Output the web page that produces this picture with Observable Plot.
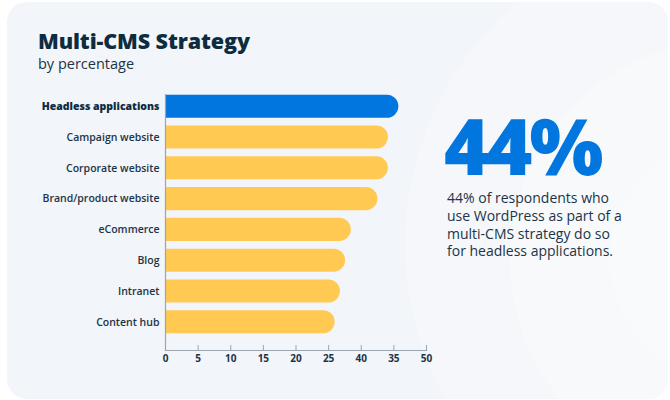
<!DOCTYPE html>
<html>
<head>
<meta charset="utf-8">
<script src="https://cdn.jsdelivr.net/npm/d3@7"></script>
<script src="https://cdn.jsdelivr.net/npm/@observablehq/plot@0.6"></script>
<style>
  html, body { margin: 0; padding: 0; background: #ffffff; }
  body { width: 670px; height: 400px; overflow: hidden; font-family: "Open Sans", sans-serif; }
  #panel { position: absolute; left: 7px; top: 2px; width: 661px; height: 397px; border-radius: 20px; background: #f2f5f9; overflow: hidden; }
  .ring { position: absolute; border-radius: 50%; }
  #title { position: absolute; left: 38px; top: 30px; font-size: 21.5px; font-weight: 800; color: #0e2c3f; letter-spacing: -0.1px; line-height: 1; white-space: nowrap; }
  #subtitle { position: absolute; left: 38px; top: 57px; font-size: 14.5px; color: #1d3446; line-height: 1; white-space: nowrap; }
  #chart { position: absolute; left: 0; top: 80px; }
  #big { position: absolute; left: 444px; top: 114px; font-size: 78px; font-weight: 800; color: #0076de; letter-spacing: -3px; line-height: 62px; white-space: nowrap; }
  #note { position: absolute; left: 447px; top: 189px; font-size: 14px; line-height: 17.8px; color: #1d3446; white-space: nowrap; }
</style>
</head>
<body>
<div id="panel">
  <div class="ring" style="left:398px;top:-77px;width:640px;height:640px;background:#f5f7fa;"></div>
  <div class="ring" style="left:503px;top:38px;width:440px;height:440px;background:#f7f9fb;"></div>
  <div class="ring" style="left:603px;top:138px;width:240px;height:240px;background:#f9fafc;"></div>
</div>
<div id="title">Multi-CMS Strategy</div>
<div id="subtitle">by percentage</div>
<div id="chart"></div>
<div id="big">44%</div>
<div id="note">44% of respondents who<br>use WordPress as part of a<br>multi-CMS strategy do so<br>for headless applications.</div>
<script>
const categories = ["Headless applications", "Campaign website", "Corporate website", "Brand/product website", "eCommerce", "Blog", "Intranet", "Content hub"];
const values = [44.7, 42.7, 42.7, 40.7, 35.6, 34.5, 33.5, 32.5];
const highlight = "Headless applications";
const tickValues = [0, 6.25, 12.5, 18.75, 25, 31.25, 37.5, 43.75, 50];
const tickLabels = ["0", "5", "10", "15", "20", "25", "40", "35", "50"];

const data = categories.map((c, i) => ({category: c, value: values[i]}));
const colorOf = d => d.category === highlight ? "#0076de" : "#ffc952";

const chart = Plot.plot({
  width: 440,
  height: 300,
  marginLeft: 165,
  marginRight: 14,
  marginTop: 14,
  marginBottom: 30,
  style: {background: "transparent", fontFamily: "Open Sans, sans-serif", overflow: "visible"},
  x: {domain: [0, 50]},
  y: {domain: categories, range: [11, 257], paddingInner: 0.25, paddingOuter: 0.12, align: 0.5, round: false},
  marks: [
    Plot.barX(data, {x: "value", y: "category", fill: colorOf, rx: 11.5, insetLeft: -16, clip: true}),
    Plot.frame({anchor: "left", stroke: "#9ba6b1", strokeWidth: 1.2}),
    Plot.frame({anchor: "bottom", stroke: "#9ba6b1", strokeWidth: 1.2}),
    Plot.axisX({ticks: tickValues, tickFormat: (d, i) => tickLabels[i], tickSize: -5, tickPadding: 9, stroke: "#9ba6b1", fill: "#1b3447", fontSize: 10, fontWeight: 700, label: null}),
    Plot.axisY([highlight], {tickSize: 0, tickPadding: 6, fill: "#0e2c3f", fontSize: 10.5, fontWeight: 800, label: null}),
    Plot.axisY(categories.filter(c => c !== highlight), {tickSize: 0, tickPadding: 6, fill: "#1d3446", fontSize: 10.5, fontWeight: 600, label: null})
  ]
});
document.getElementById("chart").appendChild(chart);
</script>
</body>
</html>
